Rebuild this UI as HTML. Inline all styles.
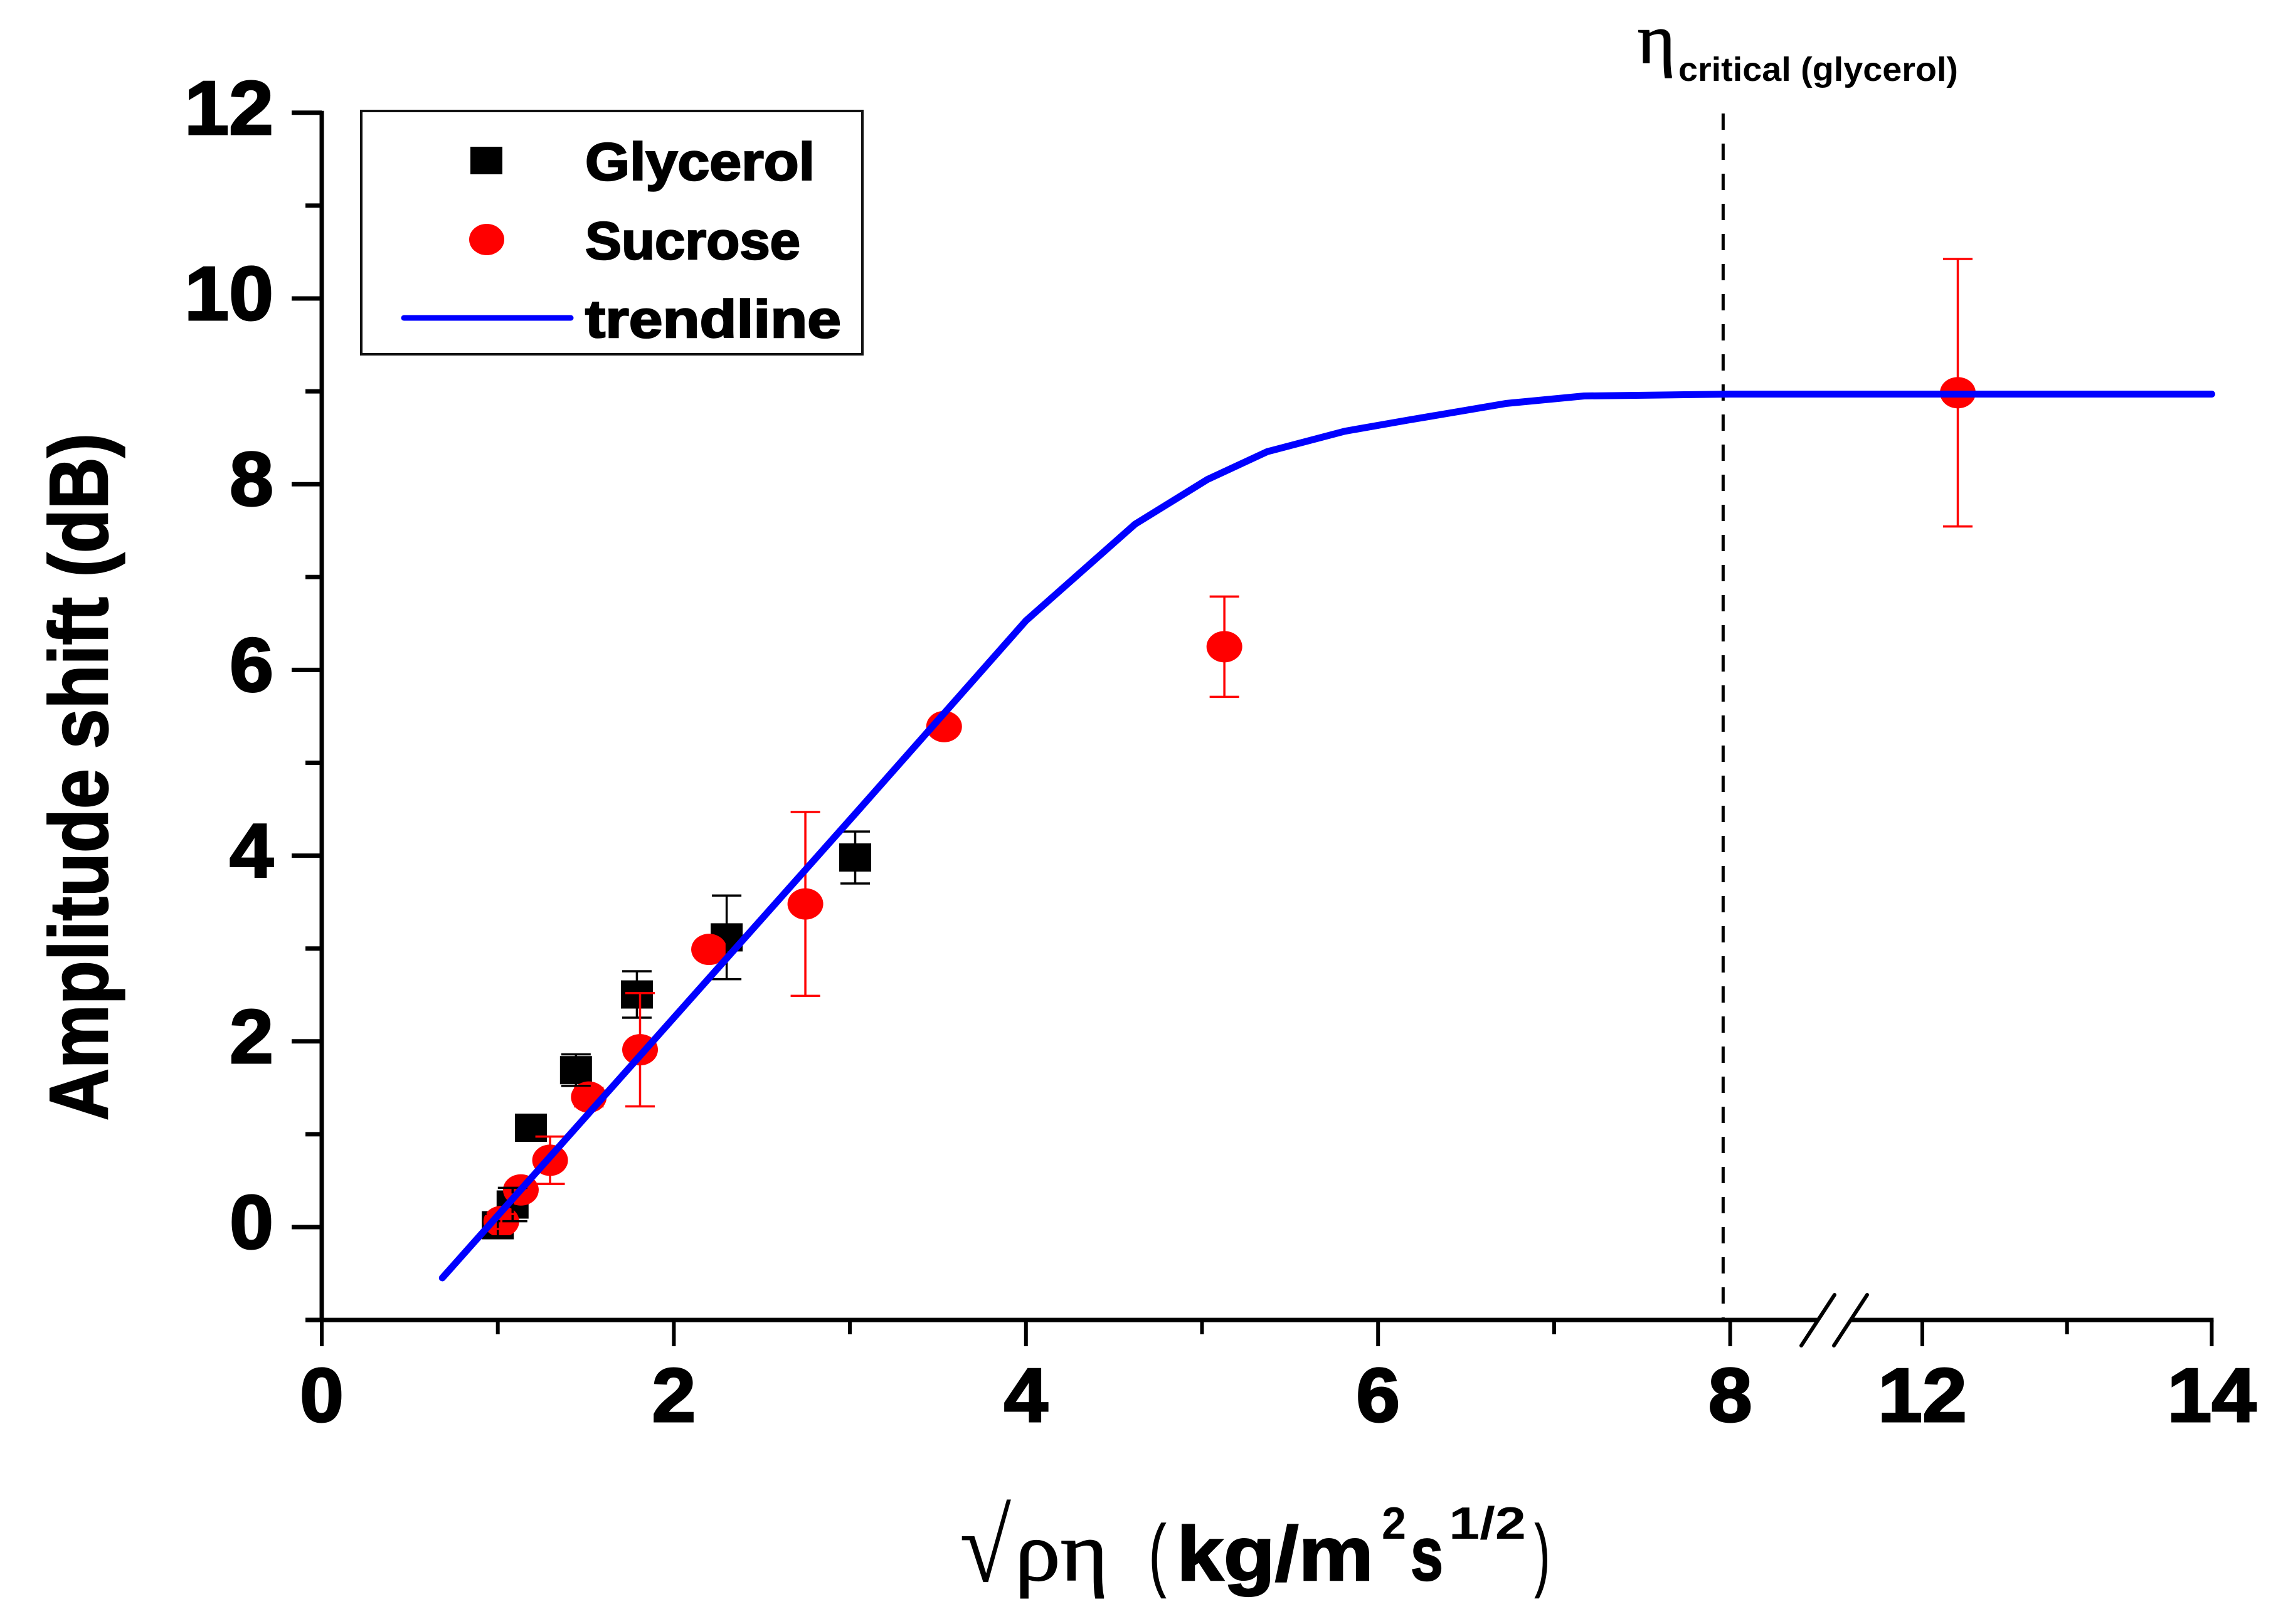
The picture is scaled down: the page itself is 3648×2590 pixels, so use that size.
<!DOCTYPE html>
<html lang="en">
<head>
<meta charset="utf-8">
<title>Amplitude shift vs viscosity-density product</title>
<style>
  html, body { margin: 0; padding: 0; background: #ffffff; }
  svg { display: block; }
  text { font-family: "Liberation Sans", sans-serif; fill: #000; }
  .serif { font-family: "Liberation Serif", serif; font-weight: normal; }
  .bold { font-weight: bold; }
  .heavy { font-weight: bold; stroke: #000; stroke-width: 2.5px; }
  .medium { stroke: #000; stroke-width: 1.5px; }
</style>
</head>
<body>
<svg id="chart" xmlns="http://www.w3.org/2000/svg" width="3648" height="2590" viewBox="0 0 3648 2590">
  <rect x="0" y="0" width="3648" height="2590" fill="#ffffff"/>
  <g id="axes"></g>
  <g id="marks"></g>

  <g>
    <rect x="576" y="177" width="799" height="388" fill="none" stroke="#111" stroke-width="4"/>
    <rect x="750" y="234" width="51" height="44" fill="#000"/>
    <ellipse cx="776" cy="382" rx="28" ry="25" fill="#ff0000"/>
    <line x1="644" y1="507" x2="910" y2="507" stroke="#0000ff" stroke-width="9" stroke-linecap="round"/>
    <text class="heavy" x="933" y="287" font-size="84" textLength="366" lengthAdjust="spacingAndGlyphs">Glycerol</text>
    <text class="heavy" x="933" y="413" font-size="84" textLength="343" lengthAdjust="spacingAndGlyphs">Sucrose</text>
    <text class="heavy" x="933" y="538" font-size="84" textLength="408" lengthAdjust="spacingAndGlyphs">trendline</text>
  </g>

  <g>
    <text class="serif medium" x="2611" y="100" font-size="112" textLength="60" lengthAdjust="spacingAndGlyphs">η</text>
    <text class="bold" x="2676" y="129" font-size="54" textLength="446" lengthAdjust="spacingAndGlyphs">critical (glycerol)</text>
  </g>

  <text class="heavy" transform="translate(171,1787) rotate(-90)" x="0" y="0" font-size="132" textLength="1096" lengthAdjust="spacingAndGlyphs">Amplitude shift (dB)</text>

  <g>
    <text class="serif" x="1530" y="2522" font-size="165" textLength="82" lengthAdjust="spacingAndGlyphs">√</text>
    <text class="serif medium" x="1618" y="2520" font-size="135" textLength="149" lengthAdjust="spacingAndGlyphs">ρη</text>
    <text class="medium" x="1832" y="2522" font-size="128" textLength="27" lengthAdjust="spacingAndGlyphs">(</text>
    <text class="heavy" x="1876" y="2520" font-size="122" textLength="314" lengthAdjust="spacingAndGlyphs">kg/m</text>
    <text class="bold" x="2203" y="2454" font-size="72" textLength="39" lengthAdjust="spacingAndGlyphs">2</text>
    <text class="heavy" x="2249" y="2520" font-size="122" textLength="52" lengthAdjust="spacingAndGlyphs">s</text>
    <text class="bold" x="2310" y="2454" font-size="72" textLength="123" lengthAdjust="spacingAndGlyphs">1/2</text>
    <text class="medium" x="2447" y="2522" font-size="128" textLength="24" lengthAdjust="spacingAndGlyphs">)</text>
  </g>
</svg>

<script>
// ---- chart data ----
const yMajorTicks = [0, 2, 4, 6, 8, 10, 12];
const yMinorTicks = [-1, 1, 3, 5, 7, 9, 11];
const xMajorTicks = [0, 2, 4, 6, 8, 12, 14];
const xMinorTicks = [1, 3, 5, 7, 13];
const glycerolX = [1.0, 1.084, 1.188, 1.444, 1.79, 2.30, 3.03];
const glycerolY = [0.02, 0.243, 1.07, 1.69, 2.505, 3.12, 3.98];
const glycerolErr = [0.12, 0.18, 0.135, 0.17, 0.25, 0.45, 0.28];
const sucroseX = [1.02, 1.131, 1.297, 1.517, 1.808, 2.2, 2.747, 3.535, 5.127, 12.245];
const sucroseY = [0.06, 0.40, 0.72, 1.40, 1.91, 2.99, 3.48, 5.39, 6.25, 8.985];
const sucroseErr = [0.08, 0.05, 0.255, 0.1, 0.61, 0.05, 0.99, 0.05, 0.54, 1.44];
const trendX = [0.685, 3.03, 4.0, 4.62, 5.03, 5.37, 5.81, 6.17, 6.73, 7.17, 8.0, 14];
const trendY = [-0.547, 4.45, 6.53, 7.57, 8.05, 8.35, 8.57, 8.69, 8.87, 8.95, 8.97, 8.97];
const criticalX = [7.96];

// ---- axis functions ----
function xAxis(v) {
  return v <= 9 ? 513 + 280.7 * v : 3065 + 230.7 * (v - 12);
}
function yAxis(v) {
  return 1957 - 148.1 * v;
}

const NS = 'http://www.w3.org/2000/svg';
const axes = document.getElementById('axes');
const marks = document.getElementById('marks');

function make(parent, tag, attrs) {
  const el = document.createElementNS(NS, tag);
  for (const k in attrs) el.setAttribute(k, attrs[k]);
  parent.appendChild(el);
  return el;
}

let el;
const axisY = yAxis(-1);

// y axis line
el = make(axes, 'line', { x1: xAxis(0), y1: yAxis(12) - 3, x2: xAxis(0), y2: axisY + 3, stroke: '#000', 'stroke-width': 7 });



// x axis line segments around the break
el = make(axes, 'line', { x1: 487, y1: axisY, x2: 2898, y2: axisY, stroke: '#000', 'stroke-width': 7 });



el = make(axes, 'line', { x1: 2951, y1: axisY, x2: xAxis(14) + 3, y2: axisY, stroke: '#000', 'stroke-width': 7 });



// axis break marks
el = make(axes, 'line', { x1: 2872, y1: 2146, x2: 2925, y2: 2065, stroke: '#000', 'stroke-width': 6, 'stroke-linecap': 'round' });



el = make(axes, 'line', { x1: 2924, y1: 2146, x2: 2977, y2: 2065, stroke: '#000', 'stroke-width': 6, 'stroke-linecap': 'round' });



function tickLabelWidth(v) {
  return String(v).length === 1 ? 70 : 142;
}

// y ticks
yMajorTicks.forEach(function (v) {
  let t = make(axes, 'line', { x1: 465, y1: yAxis(v), x2: xAxis(0), y2: yAxis(v), stroke: '#000', 'stroke-width': 7 });
  
  
  let w = tickLabelWidth(v);
  let l = make(axes, 'text', { x: 436 - w, y: yAxis(v) + 34, 'font-size': 122, 'font-weight': 'bold', stroke: '#000', 'stroke-width': 3, textLength: w, lengthAdjust: 'spacingAndGlyphs' });
  l.textContent = String(v);
  
  
});
yMinorTicks.forEach(function (v) {
  let t = make(axes, 'line', { x1: 487, y1: yAxis(v), x2: xAxis(0), y2: yAxis(v), stroke: '#000', 'stroke-width': 7 });
  
  
});

// x ticks
xMajorTicks.forEach(function (v) {
  let t = make(axes, 'line', { x1: xAxis(v), y1: axisY, x2: xAxis(v), y2: 2147, stroke: '#000', 'stroke-width': 6 });
  
  
  let w = tickLabelWidth(v);
  let l = make(axes, 'text', { x: xAxis(v) - w / 2, y: 2267, 'font-size': 122, 'font-weight': 'bold', stroke: '#000', 'stroke-width': 3, textLength: w, lengthAdjust: 'spacingAndGlyphs' });
  l.textContent = String(v);
  
  
});
xMinorTicks.forEach(function (v) {
  let t = make(axes, 'line', { x1: xAxis(v), y1: axisY, x2: xAxis(v), y2: 2128, stroke: '#000', 'stroke-width': 6 });
  
  
});

// critical viscosity dashed line
el = make(marks, 'line', { x1: xAxis(criticalX[0]), y1: 181, x2: xAxis(criticalX[0]), y2: axisY, stroke: '#000', 'stroke-width': 5, 'stroke-dasharray': '26 22' });



// glycerol squares
glycerolX.forEach(function (x, i) {
  let s = make(marks, 'rect', { x: xAxis(x) - 25.5, y: yAxis(glycerolY[i]) - 22.5, width: 51, height: 45, fill: '#000' });
  
  
});

// sucrose ellipses
sucroseX.forEach(function (x, i) {
  let s = make(marks, 'ellipse', { cx: xAxis(x), cy: yAxis(sucroseY[i]), rx: 28.5, ry: 25, fill: '#ff0000' });
  
  
});

function errorBar(x, y, err, color, width) {
  const cx = xAxis(x), top = yAxis(y + err), bot = yAxis(y - err);
  const d = 'M' + cx + ' ' + top + 'V' + bot +
            'M' + (cx - 23.5) + ' ' + top + 'H' + (cx + 23.5) +
            'M' + (cx - 23.5) + ' ' + bot + 'H' + (cx + 23.5);
  return make(marks, 'path', { d: d, fill: 'none', stroke: color, 'stroke-width': width });
}

// error bars
glycerolX.forEach(function (x, i) {
  let b = errorBar(x, glycerolY[i], glycerolErr[i], '#000', 3.5);
  
  
});
sucroseX.forEach(function (x, i) {
  let b = errorBar(x, sucroseY[i], sucroseErr[i], '#ff0000', 3.5);
  
  
});

// trendline
const trendPts = trendX.map(function (x, i) { return xAxis(x) + ',' + yAxis(trendY[i]); }).join(' ');
el = make(marks, 'polyline', { points: trendPts, fill: 'none', stroke: '#0000ff', 'stroke-width': 11, 'stroke-linecap': 'round', 'stroke-linejoin': 'round' });


</script>
</body>
</html>
